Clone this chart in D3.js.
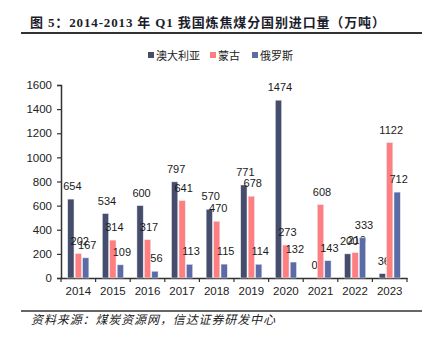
<!DOCTYPE html>
<html><head><meta charset="utf-8">
<script src="https://cdn.jsdelivr.net/npm/d3@7"></script>
<style>body{margin:0;background:#fff}svg{display:block}</style>
</head><body>
<svg id="c" width="435" height="343"></svg>
<script>
const years = ["2014","2015","2016","2017","2018","2019","2020","2021","2022","2023"];
const seriesNames = ["澳大利亚","蒙古","俄罗斯"];
const australia = [654,534,600,797,570,771,1474,0,200,36];
const mongolia = [202,314,317,641,470,678,273,608,210,1122];
const russia = [167,109,56,113,115,114,132,143,333,712];
const yTicks = [0,200,400,600,800,1000,1200,1400,1600];
const colors = ["#454c6c","#ff7f80","#5b6ba5"];
const series = [australia, mongolia, russia];

const svg = d3.select("#c");
const num = "'Liberation Sans', Arial, sans-serif";
const cjk = "'Noto Sans CJK SC', sans-serif";

// title
svg.append("text").attr("x",30).attr("y",27)
  .attr("font-family","'Liberation Serif','Noto Sans CJK SC',serif")
  .attr("font-weight","bold").attr("font-size",13).attr("fill","#1c1c2a")
  .attr("textLength",355).attr("lengthAdjust","spacing")
  .text("图 5：2014-2013 年 Q1 我国炼焦煤分国别进口量（万吨）");
svg.append("line").attr("x1",21).attr("x2",422).attr("y1",33).attr("y2",33)
  .attr("stroke","#333").attr("stroke-width",2);

// scales
const x = d3.scaleBand().domain(years).range([61,407]).padding(0);
const y = d3.scaleLinear().domain([0,1600]).range([278,85]);
const inner = d3.scaleBand().domain([0,1,2]).range([0, x.bandwidth()*0.61]).paddingInner(0.16);
const off = (x.bandwidth() - x.bandwidth()*0.61)/2;

// axes
const ya = svg.append("g").attr("transform","translate(61,0)")
  .call(d3.axisLeft(y).tickValues(yTicks).tickFormat(d3.format("d")).tickSize(4).tickPadding(5));
ya.selectAll("text").attr("font-family",num).attr("font-size",11.5).attr("fill","#222");
const xa = svg.append("g").attr("transform","translate(0,278)")
  .call(d3.axisBottom(x).tickSize(0).tickPadding(9));
xa.selectAll("text").attr("font-family",num).attr("font-size",11.5).attr("fill","#222");
// boundary ticks
const bounds = years.map(d=>x(d)).concat([x(years[years.length-1])+x.bandwidth()]);
svg.append("g").selectAll("line").data(bounds).join("line")
  .attr("x1",d=>d).attr("x2",d=>d).attr("y1",278).attr("y2",282)
  .attr("stroke","#333").attr("stroke-width",1.2);
[ya,xa].forEach(a=>{a.select(".domain").attr("stroke","#333").attr("stroke-width",1.5);
  a.selectAll(".tick line").attr("stroke","#333").attr("stroke-width",1.2);});

// bars
series.forEach((vals,si)=>{
  const g = svg.append("g");
  g.selectAll("rect").data(vals).join("rect")
    .attr("x",(d,i)=>x(years[i])+off+inner(si))
    .attr("width",inner.bandwidth())
    .attr("y",d=>y(d)).attr("height",d=>y(0)-y(d))
    .attr("fill",colors[si]).attr("stroke","#e6e8f0").attr("stroke-width",0.5);
  g.selectAll("text").data(vals).join("text")
    .attr("x",(d,i)=>x(years[i])+off+inner(si)+inner.bandwidth()/2+1.5)
    .attr("y",d=>y(d)-9)
    .attr("text-anchor","middle").attr("font-family",num).attr("font-size",11)
    .attr("fill","#1a1a1a").text(d=>d);
});

// legend
const lx = [148,210,252];
seriesNames.forEach((n,i)=>{
  svg.append("rect").attr("x",lx[i]).attr("y",52).attr("width",6).attr("height",6).attr("fill",colors[i]);
  svg.append("text").attr("x",lx[i]+8).attr("y",59.5).attr("font-family",cjk).attr("font-size",11)
    .attr("fill","#222").text(n);
});

// source
svg.append("line").attr("x1",21).attr("x2",422).attr("y1",311).attr("y2",311)
  .attr("stroke","#333").attr("stroke-width",1.6);
svg.append("text").attr("x",31).attr("y",324).attr("font-family",cjk).attr("font-style","italic")
  .attr("font-size",12).attr("fill","#222")
  .attr("textLength",244).attr("lengthAdjust","spacing")
  .text("资料来源：煤炭资源网，信达证券研发中心");
</script>
</body></html>
